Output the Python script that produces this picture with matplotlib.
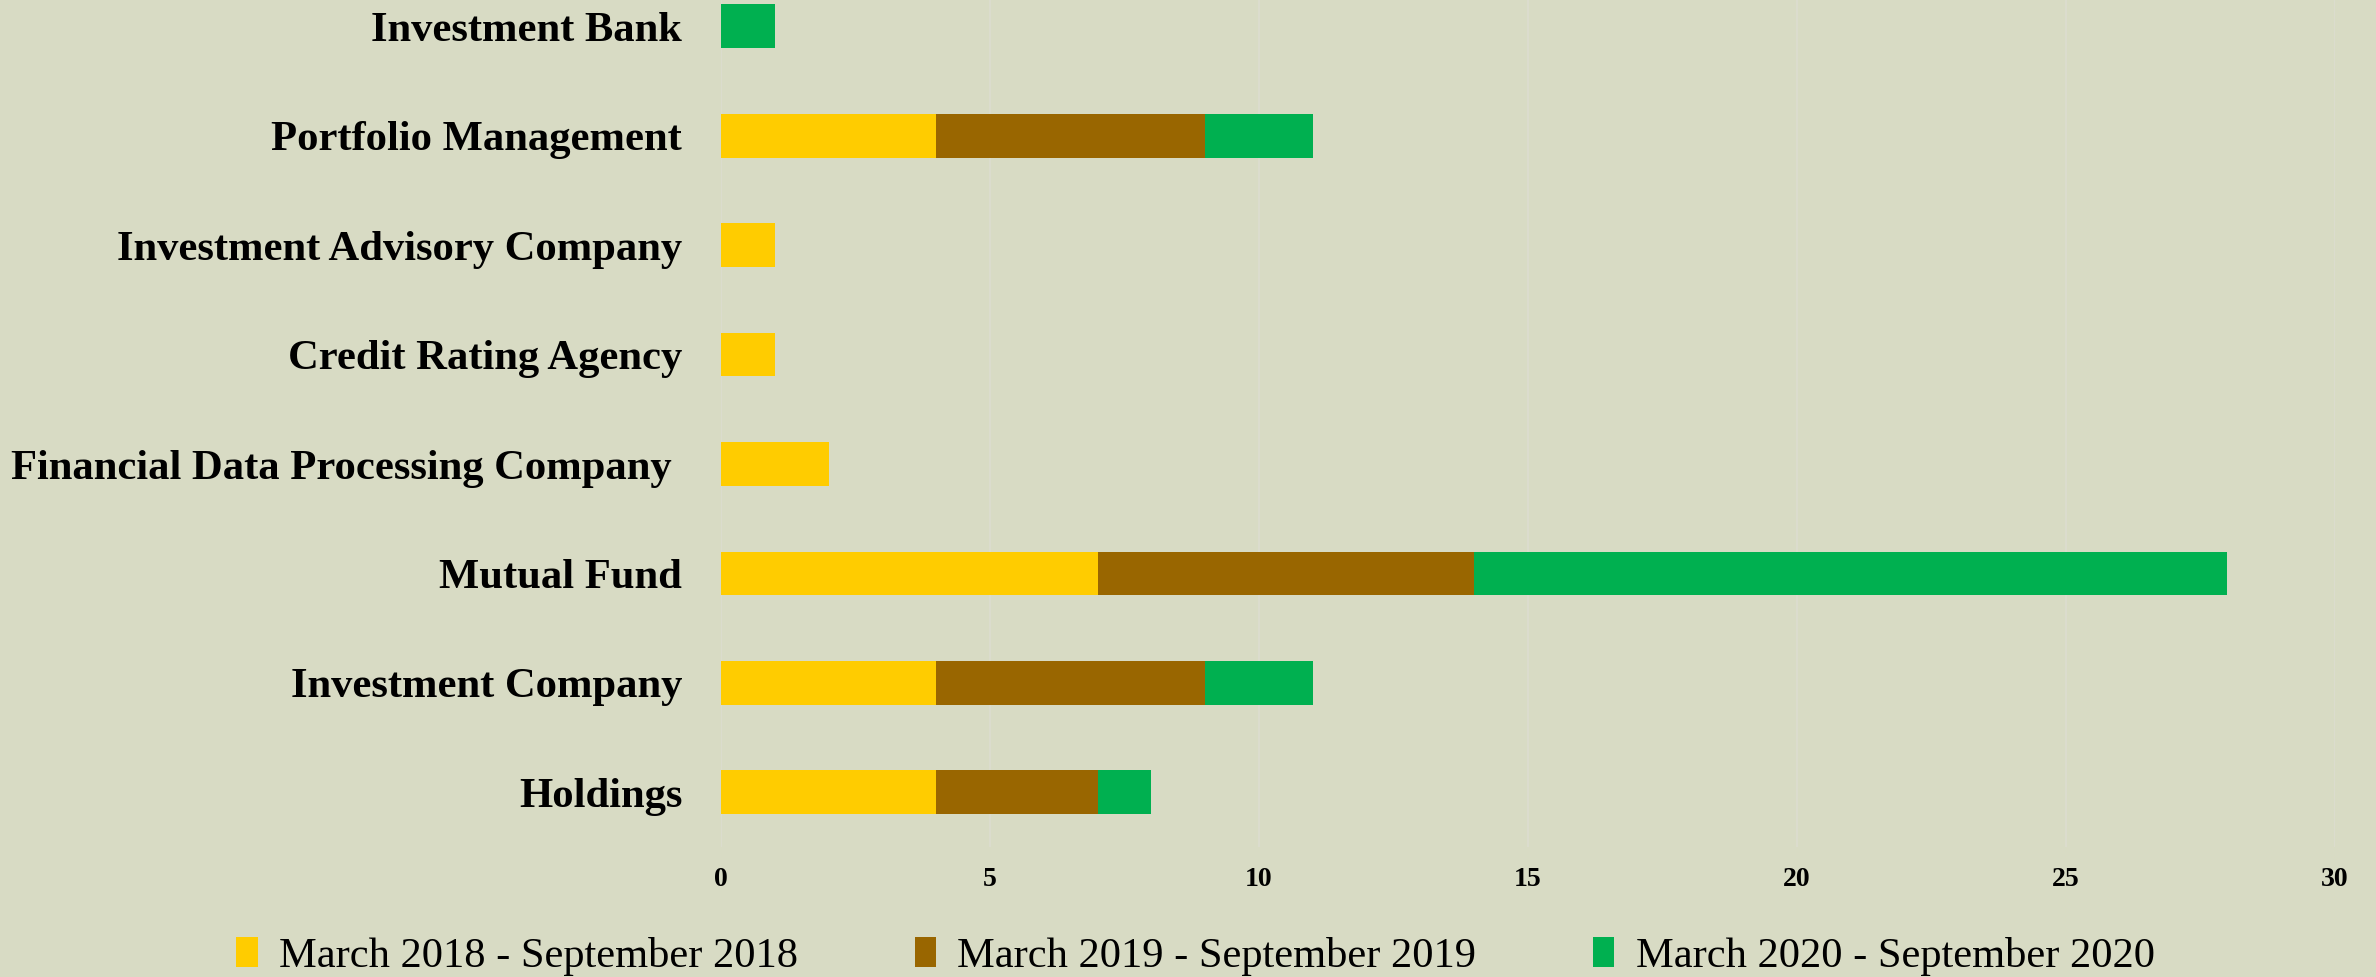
import numpy as np
import matplotlib
matplotlib.use('Agg')
import matplotlib.pyplot as plt

categories = ['Holdings', 'Investment Company', 'Mutual Fund',
              'Financial Data Processing Company ', 'Credit Rating Agency',
              'Investment Advisory Company', 'Portfolio Management', 'Investment Bank']
s2018 = [4, 4, 7, 2, 1, 1, 4, 0]
s2019 = [3, 5, 7, 0, 0, 0, 5, 0]
s2020 = [1, 2, 14, 0, 0, 0, 2, 1]
series_names = ['March 2018 - September 2018', 'March 2019 - September 2019',
                'March 2020 - September 2020']
colors = ['#FFCC00', '#996600', '#00B050']
xticks = [0, 5, 10, 15, 20, 25, 30]

bg = '#D8DBC4'
plt.rcParams['font.family'] = ['Liberation Serif', 'DejaVu Serif']

fig = plt.figure(figsize=(23.76, 9.77), dpi=100, facecolor=bg)
ax = fig.add_axes([0.3035, 0.133, 0.9827 - 0.3035, 0.867])
ax.set_facecolor(bg)

y = np.arange(len(categories))
left = np.zeros(len(categories))
for vals, name, c in zip([s2018, s2019, s2020], series_names, colors):
    vals = np.array(vals, dtype=float)
    ax.barh(y, vals, left=left, height=0.4, color=c, label=name, zorder=3)
    left += vals

ax.set_xlim(0, 30)
ax.set_ylim(-0.5, 7.24)
ax.set_xticks(xticks)
ax.set_xticklabels([str(t) for t in xticks], fontsize=20, fontweight='bold')
ax.set_yticks(y)
ax.set_yticklabels(categories, fontsize=30.7, fontweight='bold')
ax.tick_params(axis='both', length=0)
ax.tick_params(axis='y', pad=28)
ax.tick_params(axis='x', pad=14)
ax.grid(axis='x', color='#DCDDD0', linewidth=1.2, zorder=0)
for s in ax.spines.values():
    s.set_visible(False)

fig.legend(loc='center', bbox_to_anchor=(0.5032, 1 - 956 / 977), ncol=3,
           frameon=False, fontsize=30.6, handlelength=0.5, handleheight=0.7,
           handletextpad=0.5, columnspacing=2.75)

fig.savefig('out.png', dpi=100, facecolor=bg)
